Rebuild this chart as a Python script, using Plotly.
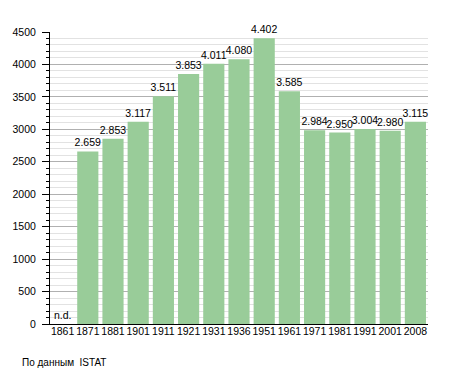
import plotly.graph_objects as go

years = ["1861", "1871", "1881", "1901", "1911", "1921", "1931", "1936", "1951",
         "1961", "1971", "1981", "1991", "2001", "2008"]
population = [None, 2659, 2853, 3117, 3511, 3853, 4011, 4080, 4402,
              3585, 2984, 2950, 3004, 2980, 3115]
labels = ["" if v is None else f"{v:,}".replace(",", ".") for v in population]
y_ticks = [0, 500, 1000, 1500, 2000, 2500, 3000, 3500, 4000, 4500]

FONT = "Liberation Sans, Arial, sans-serif"
FS = 10.5

fig = go.Figure()
fig.add_trace(go.Bar(
    x=years, y=population, text=labels, textposition="outside",
    constraintext="none",
    textfont=dict(size=FS, color="black", family=FONT),
    marker=dict(color="#99cc99", line=dict(width=0)),
    width=0.84, cliponaxis=False, hoverinfo="skip",
))
fig.add_annotation(x=0, y=0, xref="x", yref="y", text="n.d.", showarrow=False,
                   xanchor="center", yanchor="bottom", yshift=1,
                   font=dict(size=FS, color="black", family=FONT))
fig.add_annotation(x=(20 - 50) / 378, y=(324 - 362) / 292, xref="paper", yref="paper",
                   text="По данным  ISTAT", showarrow=False,
                   xanchor="left", yanchor="middle",
                   font=dict(size=10, color="black", family=FONT))

fig.update_layout(
    width=455, height=373,
    margin=dict(l=50, r=27, t=32, b=49, autoexpand=False),
    plot_bgcolor="white", paper_bgcolor="white",
    showlegend=False,
    font=dict(family=FONT, size=FS, color="black"),
    xaxis=dict(type="category", showline=True, linecolor="black", linewidth=1,
               ticks="", tickangle=0, tickfont=dict(size=FS), showgrid=False,
               automargin=False, ticklabelstandoff=-3),
    yaxis=dict(range=[0, 4500], tickvals=y_ticks, showline=True, linecolor="black",
               linewidth=1, ticks="outside", ticklen=7, tickwidth=1, tickcolor="#000000",
               showgrid=True, gridcolor="#b0b0b0", gridwidth=1, zeroline=False,
               tickfont=dict(size=FS), automargin=False, ticklabelstandoff=4,
               minor=dict(dtick=100, showgrid=True, gridcolor="#e2e2e2",
                          ticks="outside", ticklen=3, tickwidth=1, tickcolor="#000000")),
)
fig.write_html("out.html", config={"displayModeBar": False},
               post_script="document.body.style.margin='0';document.body.style.overflow='hidden';")
